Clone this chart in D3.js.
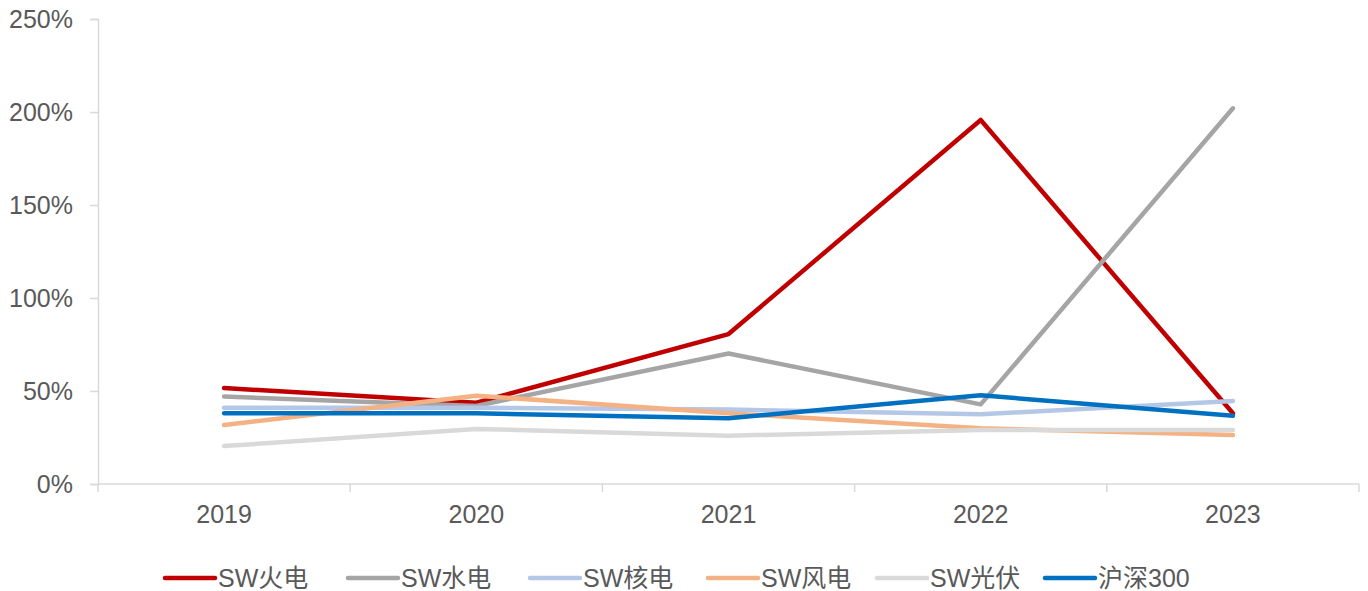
<!DOCTYPE html>
<html>
<head>
<meta charset="utf-8">
<script src="https://cdn.jsdelivr.net/npm/d3@7"></script>
<style>
  html, body { margin: 0; padding: 0; background: #fff; }
  svg { display: block; }
  text { font-family: "Liberation Sans", Arial, "Noto Sans CJK SC", sans-serif; fill: #595959; }
</style>
</head>
<body>
<svg id="chart" width="1368" height="591"></svg>
<script>
// Years on the category axis
const years = ["2019", "2020", "2021", "2022", "2023"];

// Series (percent values per year)
const seriesNames = ["SW火电", "SW水电", "SW核电", "SW风电", "SW光伏", "沪深300"];
const seriesColors = ["#C00000", "#A5A5A5", "#B4C7E7", "#F4B183", "#D9D9D9", "#0070C0"];
const huodian   = [51.6, 43.7, 80.6, 195.7, 38.0];
const shuidian  = [47.0, 42.0, 70.2, 42.8, 202.0];
const hedian    = [41.0, 41.0, 40.0, 37.5, 44.6];
const fengdian  = [31.7, 47.5, 38.0, 30.0, 26.3];
const guangfu   = [20.4, 29.6, 26.0, 29.0, 29.0];
const hs300     = [38.0, 38.0, 35.3, 47.7, 36.7];
const seriesValues = [huodian, shuidian, hedian, fengdian, guangfu, hs300];

// Value axis ticks
const yTicks = [0, 50, 100, 150, 200, 250];

const svg = d3.select("#chart");
const plotLeft = 98, plotRight = 1359, plotTop = 19, plotBottom = 484;

const x = d3.scaleBand().domain(years).range([plotLeft, plotRight]).padding(0);
const y = d3.scaleLinear().domain([0, 250]).range([plotBottom, plotTop]);

const axisColor = "#D9D9D9";

// Y axis
const yAxis = svg.append("g")
  .attr("transform", `translate(${plotLeft},0)`)
  .call(d3.axisLeft(y).tickValues(yTicks).tickSize(8).tickPadding(17)
    .tickFormat(d => d + "%"));
yAxis.select(".domain").attr("stroke", axisColor).attr("stroke-width", 1.5);
yAxis.selectAll(".tick line").attr("stroke", axisColor).attr("stroke-width", 1.5);
yAxis.selectAll(".tick text")
  .attr("font-size", 25).attr("fill", "#595959")
  .style("font-family", '"Liberation Sans", Arial, sans-serif');

// X axis: tick marks at band boundaries, labels at band centres
const xg = svg.append("g").attr("transform", `translate(0,${plotBottom})`);
xg.append("line")
  .attr("x1", plotLeft).attr("x2", plotRight).attr("y1", 0).attr("y2", 0)
  .attr("stroke", axisColor).attr("stroke-width", 1.5);
const boundaries = years.map(d => x(d)).concat([x(years[years.length - 1]) + x.bandwidth()]);
xg.selectAll("line.tk").data(boundaries).enter().append("line")
  .attr("class", "tk")
  .attr("x1", d => d).attr("x2", d => d).attr("y1", 0).attr("y2", 8)
  .attr("stroke", axisColor).attr("stroke-width", 1.5);
xg.selectAll("text.yr").data(years).enter().append("text")
  .attr("class", "yr")
  .attr("x", d => x(d) + x.bandwidth() / 2)
  .attr("y", 39)
  .attr("text-anchor", "middle")
  .attr("font-size", 25)
  .text(d => d);

// Lines
const line = d3.line()
  .x((d, i) => x(years[i]) + x.bandwidth() / 2)
  .y(d => y(d));

svg.append("g").selectAll("path").data(seriesValues).enter().append("path")
  .attr("d", d => line(d))
  .attr("fill", "none")
  .attr("stroke", (d, i) => seriesColors[i])
  .attr("stroke-width", 4.5)
  .attr("stroke-linejoin", "round")
  .attr("stroke-linecap", "round");

// Legend: fixed slot starts along the bottom row
const legendSlots = [165, 348, 530, 708, 877, 1045];
const ly = 578;
const legend = svg.append("g");
seriesNames.forEach((name, i) => {
  const cx = legendSlots[i];
  legend.append("line")
    .attr("x1", cx).attr("x2", cx + 50).attr("y1", ly).attr("y2", ly)
    .attr("stroke", seriesColors[i]).attr("stroke-width", 4.5)
    .attr("stroke-linecap", "round");
  legend.append("text")
    .attr("x", cx + 53).attr("y", ly)
    .attr("dominant-baseline", "central")
    .attr("font-size", 25)
    .text(name);
});
</script>
</body>
</html>
